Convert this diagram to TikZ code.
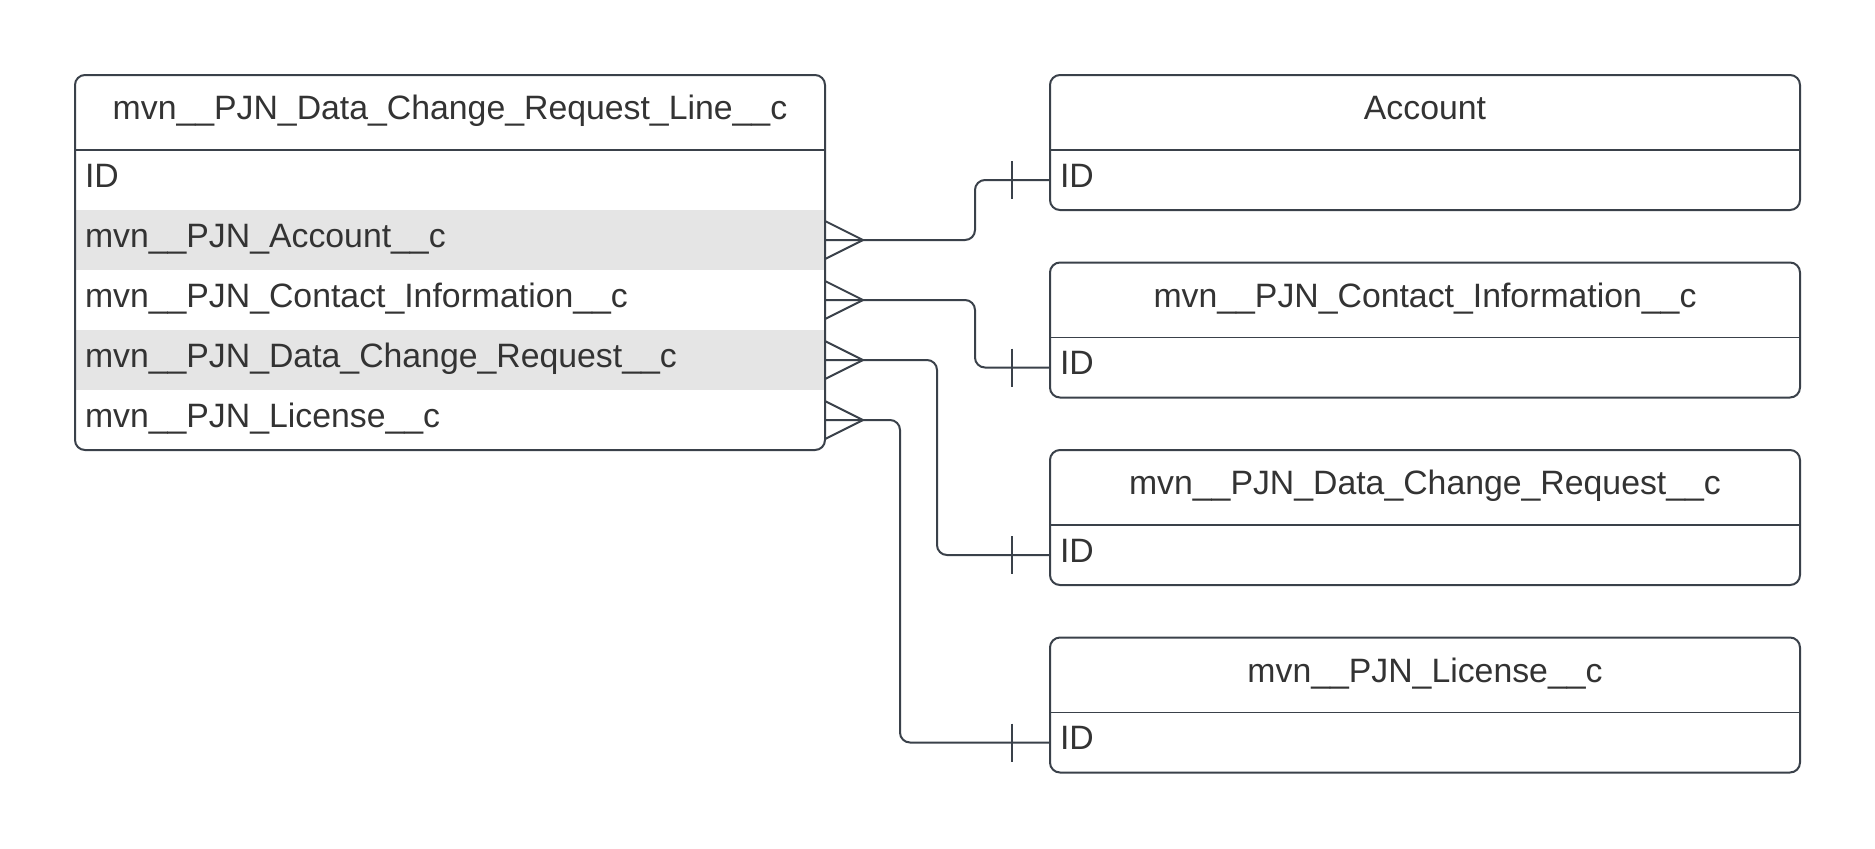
\documentclass[tikz,border=0pt]{standalone}
\usepackage{fontspec}
\setmainfont{Liberation Sans}
\usepackage{tikz}
\usetikzlibrary{positioning}
\usepackage{xcolor}

\definecolor{linecol}{RGB}{58,65,74}
\definecolor{textcol}{RGB}{51,51,51}
\definecolor{rowgray}{RGB}{229,229,229}

\tikzset{
	head/.style={anchor=north west,outer sep=0pt,minimum height=37.5pt,text width=365pt,inner xsep=5pt,inner ysep=0pt,text height=12pt,text depth=5pt,align=center,text=textcol,font=\fontsize{16.9}{20}\selectfont},
	row/.style={anchor=north west,outer sep=0pt,minimum height=30pt,text width=365pt,inner xsep=5pt,inner ysep=0pt,text height=12pt,text depth=5pt,align=left,text=textcol,font=\fontsize{16.9}{20}\selectfont},
	shade/.style={row,fill=rowgray},
	frame/.style={draw=linecol,line width=1pt,rounded corners=5pt},
	rel/.style={draw=linecol,line width=1pt},
}

\newcommand{\crowfoot}[1]{\draw[rel] ([yshift=9.5pt]#1.east) -- ([xshift=19pt]#1.east) -- ([yshift=-9.5pt]#1.east);}
\newcommand{\onetick}[1]{\draw[rel] ([xshift=-19pt,yshift=9.5pt]#1.west) -- ([xshift=-19pt,yshift=-9.5pt]#1.west);}

\begin{document}
\begin{tikzpicture}[x=0.5pt,y=-0.5pt]
	\useasboundingbox (0,0) rectangle (1875,848);
	% main entity
	\node [head] (line) at (75,75) {mvn\_\_PJN\_Data\_Change\_Request\_Line\_\_c};
	\node [row,below=0pt of line] (line-id) {ID};
	\node [shade,below=0pt of line-id] (line-acc) {mvn\_\_PJN\_Account\_\_c};
	\node [row,below=0pt of line-acc] (line-con) {mvn\_\_PJN\_Contact\_Information\_\_c};
	\node [shade,below=0pt of line-con] (line-dcr) {mvn\_\_PJN\_Data\_Change\_Request\_\_c};
	\node [row,below=0pt of line-dcr] (line-lic) {mvn\_\_PJN\_License\_\_c};
	\draw [frame] (line.north west) rectangle (line-lic.south east);
	\draw [linecol,line width=1pt] (line.south west) -- (line.south east);

	% referenced entities
	\node [head] (acc) at (1050,75) {Account};
	\node [row,below=0pt of acc] (acc-id) {ID};
	\draw [frame] (acc.north west) rectangle (acc-id.south east);
	\draw [linecol,line width=1pt] (acc.south west) -- (acc.south east);

	\node [head] (con) at (1050,262.5) {mvn\_\_PJN\_Contact\_Information\_\_c};
	\node [row,below=0pt of con] (con-id) {ID};
	\draw [frame] (con.north west) rectangle (con-id.south east);
	\draw [linecol,line width=0.5pt] (con.south west) -- (con.south east);

	\node [head] (dcr) at (1050,450) {mvn\_\_PJN\_Data\_Change\_Request\_\_c};
	\node [row,below=0pt of dcr] (dcr-id) {ID};
	\draw [frame] (dcr.north west) rectangle (dcr-id.south east);
	\draw [linecol,line width=1pt] (dcr.south west) -- (dcr.south east);

	\node [head] (lic) at (1050,637.5) {mvn\_\_PJN\_License\_\_c};
	\node [row,below=0pt of lic] (lic-id) {ID};
	\draw [frame] (lic.north west) rectangle (lic-id.south east);
	\draw [linecol,line width=0.5pt] (lic.south west) -- (lic.south east);

	% relations
	\draw [rel,rounded corners=5pt] (line-acc.east) -- ++(75pt,0) |- (acc-id.west);
	\draw [rel,rounded corners=5pt] (line-con.east) -- ++(75pt,0) |- (con-id.west);
	\draw [rel,rounded corners=5pt] (line-dcr.east) -- ++(56pt,0) |- (dcr-id.west);
	\draw [rel,rounded corners=5pt] (line-lic.east) -- ++(37.5pt,0) |- (lic-id.west);
	\crowfoot{line-acc} \crowfoot{line-con} \crowfoot{line-dcr} \crowfoot{line-lic}
	\onetick{acc-id} \onetick{con-id} \onetick{dcr-id} \onetick{lic-id}
\end{tikzpicture}
\end{document}
